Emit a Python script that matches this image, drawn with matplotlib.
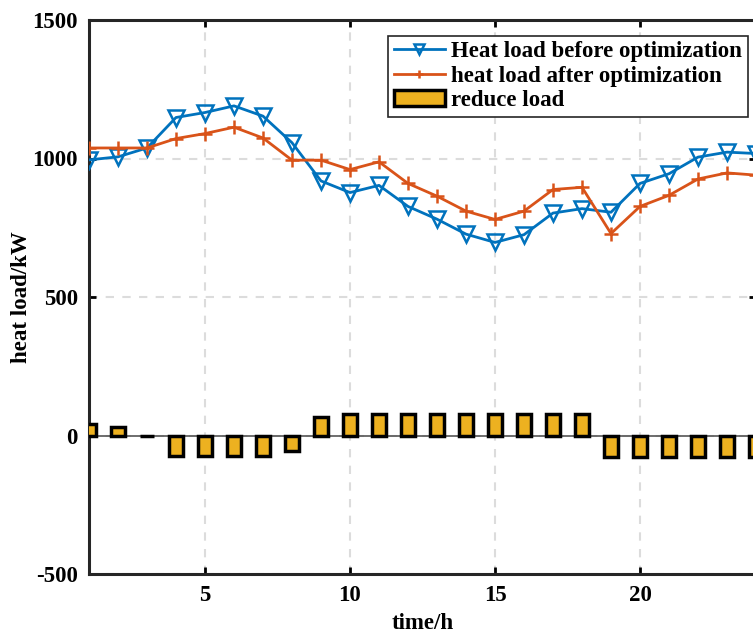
import matplotlib
matplotlib.use("Agg")
import matplotlib.pyplot as plt

hours = list(range(1, 25))
before_opt = [995, 1006, 1038, 1148, 1166, 1190, 1153, 1057, 919, 877, 903, 827,
              781, 727, 697, 725, 803, 819, 806, 910, 945, 1005, 1023, 1018]
after_opt = [1038, 1038, 1038, 1072, 1090, 1113, 1074, 994, 994, 960, 988, 910,
             864, 810, 780, 810, 888, 896, 729, 827, 867, 926, 948, 940]
reduce_load = [40, 30, -3, -75, -75, -75, -75, -55, 68, 76, 76, 76,
               76, 76, 76, 76, 76, 76, -77, -77, -77, -77, -77, -77]

plt.rcParams["font.family"] = ["Liberation Serif", "DejaVu Serif"]
plt.rcParams["font.weight"] = "bold"
plt.rcParams["font.size"] = 16.5
plt.rcParams["axes.unicode_minus"] = False

fig = plt.figure(figsize=(7.53, 6.34), dpi=100)
ax = fig.add_axes([89 / 753, 60 / 634, 667 / 753, 554 / 634])

ax.bar(hours, reduce_load, width=0.5, color="#EDB120", edgecolor="black",
       linewidth=2.5, label="reduce load", zorder=3)
ax.axhline(0, color="#555555", lw=1.2, zorder=2)
ax.plot(hours, before_opt, color="#0072BD", lw=2, marker="v", ms=11,
        mfc="none", mew=1.8, label="Heat load before optimization", zorder=4)
ax.plot(hours, after_opt, color="#D95319", lw=2, marker="+", ms=10,
        mew=1.8, label="heat load after optimization", zorder=4)

ax.set_xlim(1, 24)
ax.set_ylim(-500, 1500)
ax.set_xticks([5, 10, 15, 20])
ax.set_yticks([-500, 0, 500, 1000, 1500])
ax.grid(True, ls=(0, (4, 4)), color="#dcdcdc", lw=1.5, zorder=0)
ax.set_axisbelow(True)
ax.tick_params(direction="in", length=5, width=2, top=True, right=True, pad=8)
for s in ax.spines.values():
    s.set_linewidth(2.2)
    s.set_color("#262626")

ax.set_xlabel("time/h", fontweight="bold", labelpad=5)
ax.set_ylabel("heat load/kW", fontweight="bold", labelpad=0)

leg = ax.legend(loc="upper right", bbox_to_anchor=(0.995, 0.98), fancybox=False,
                framealpha=1, edgecolor="#262626", borderpad=0.25,
                labelspacing=0.15, handlelength=2.2, handletextpad=0.3,
                borderaxespad=0.2, markerscale=0.6,
                prop={"weight": "bold", "size": 16.5})
leg.get_frame().set_linewidth(1.2)

fig.savefig("out.png", dpi=100)
